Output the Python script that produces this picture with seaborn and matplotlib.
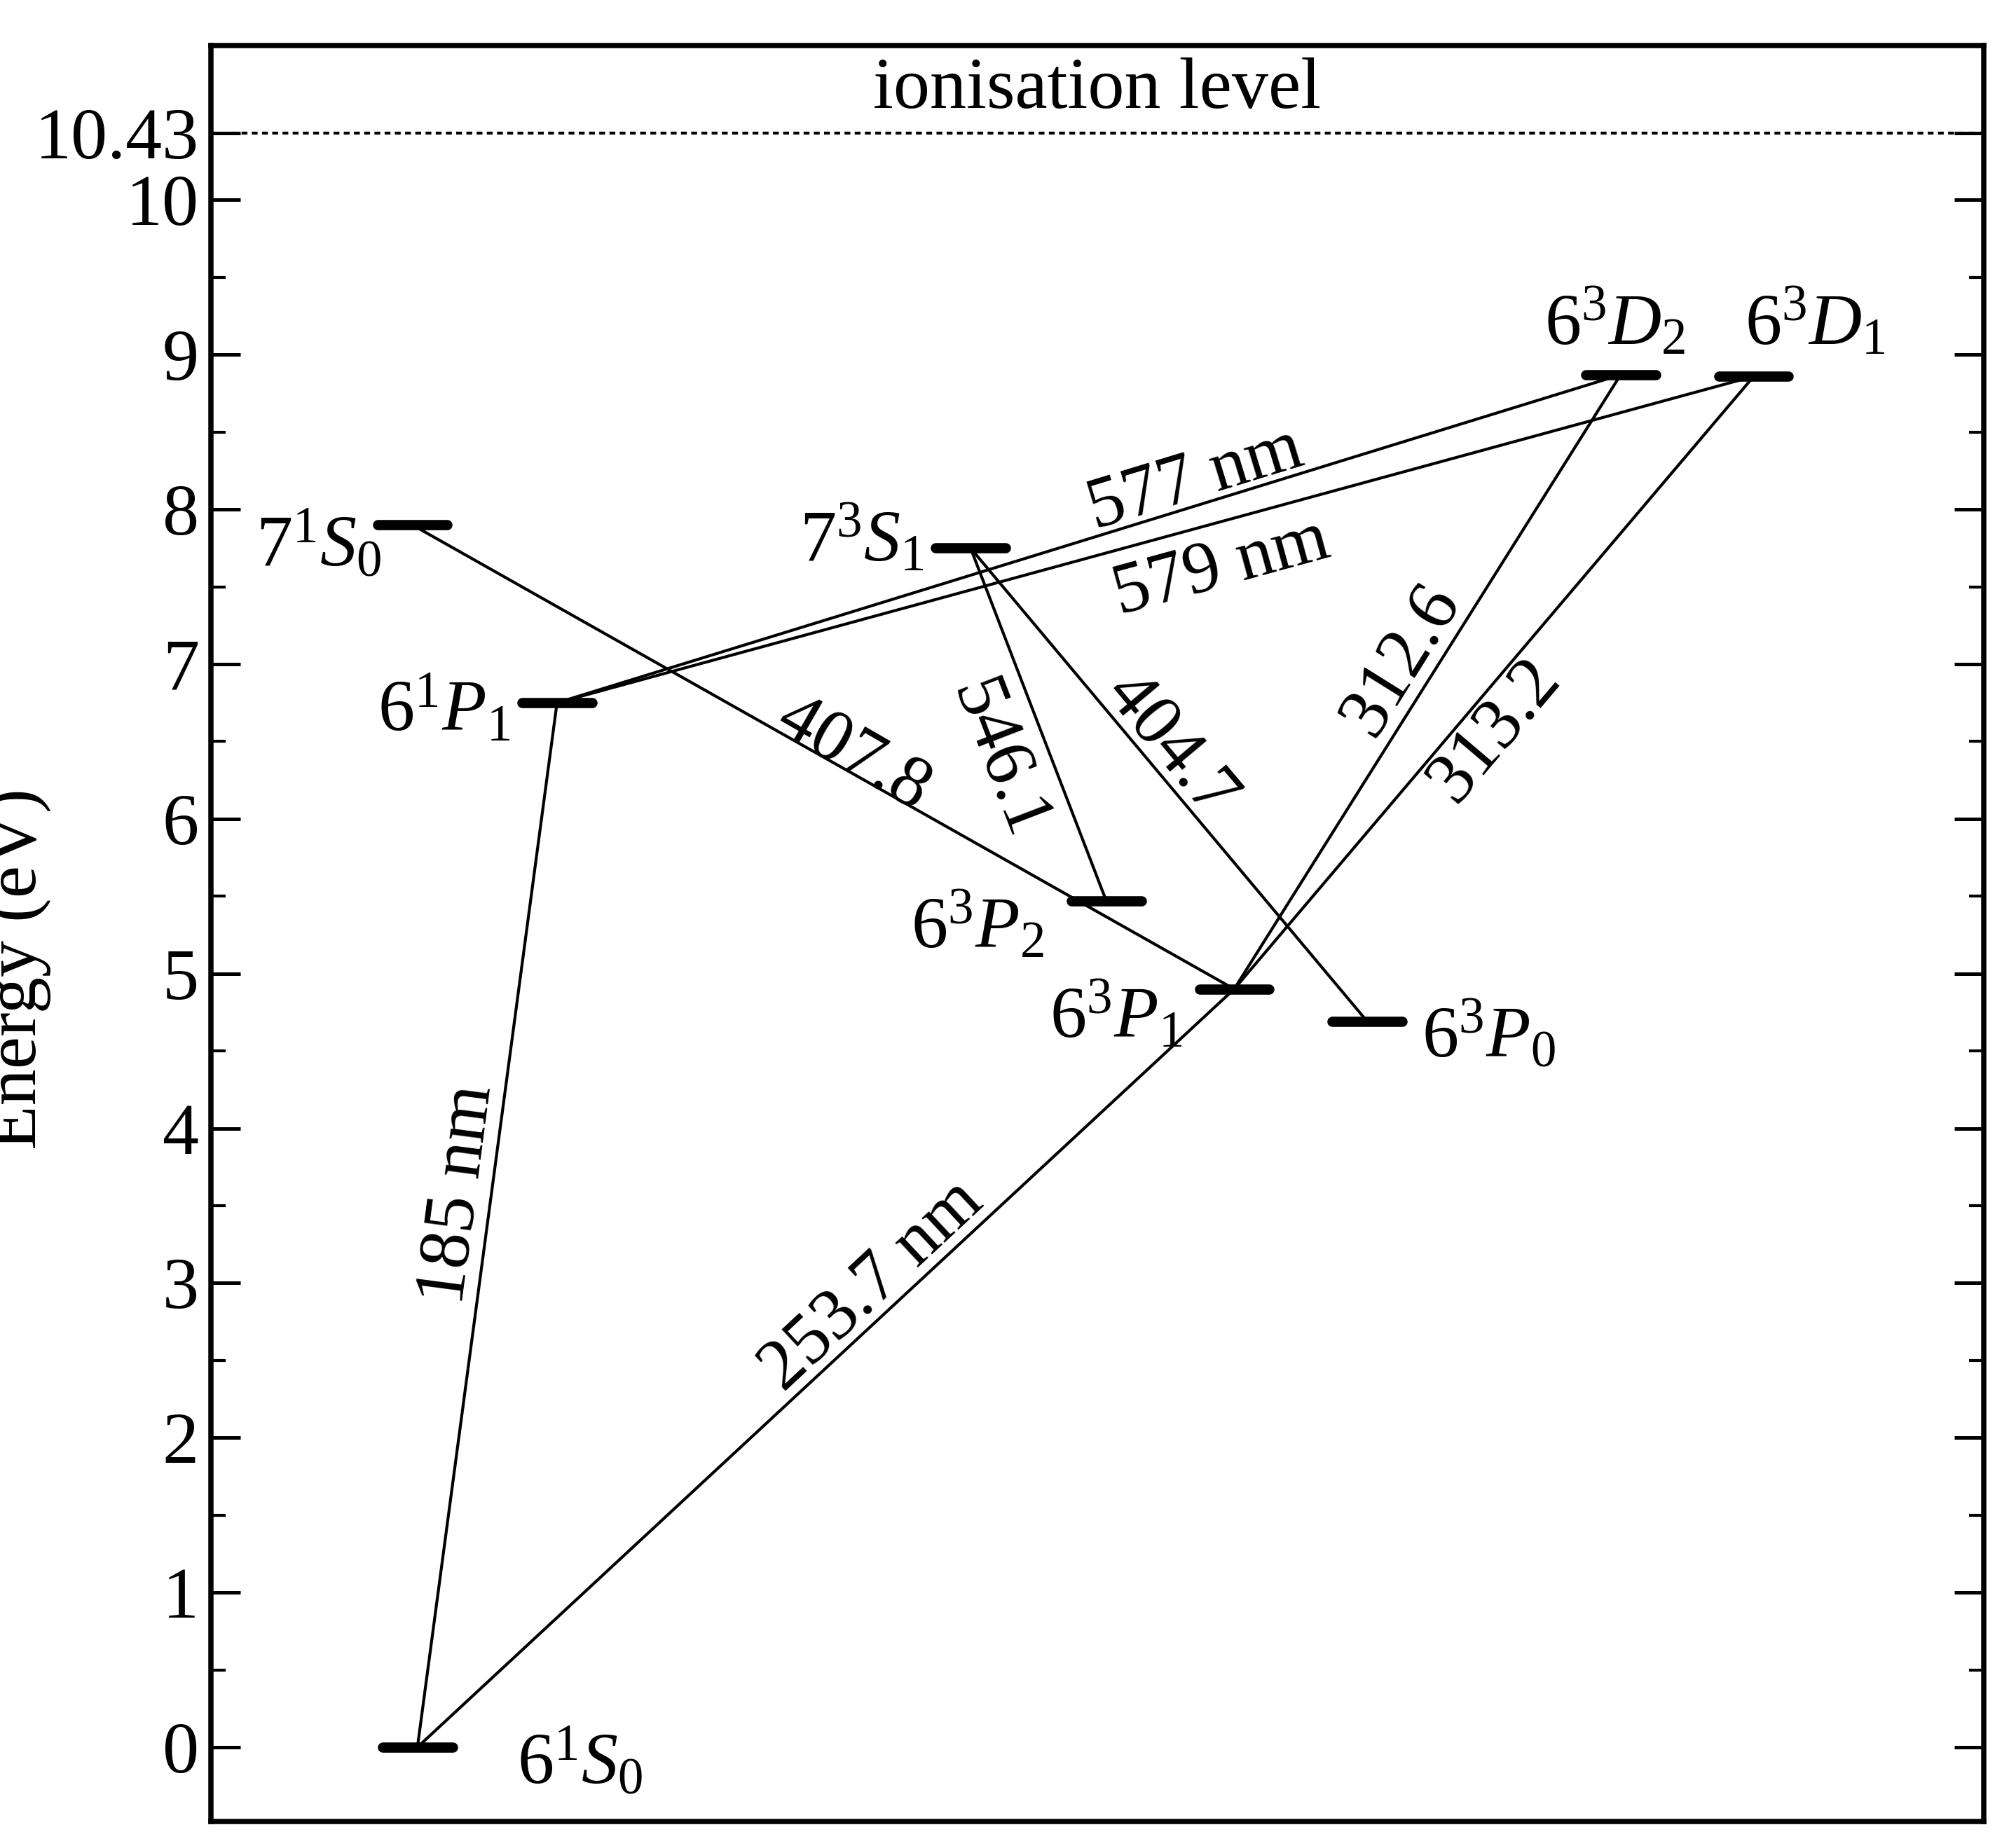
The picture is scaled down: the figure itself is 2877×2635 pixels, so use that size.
import matplotlib
matplotlib.use("Agg")
import matplotlib.pyplot as plt
import seaborn as sns
import numpy as np

sns.set_theme(style="white")
plt.rcParams['font.family'] = ['Liberation Serif', 'DejaVu Serif']
plt.rcParams['mathtext.fontset'] = 'custom'
plt.rcParams['mathtext.rm'] = 'Liberation Serif'
plt.rcParams['mathtext.it'] = 'Liberation Serif:italic'
plt.rcParams['text.color'] = 'black'
plt.rcParams['ytick.color'] = 'black'
plt.rcParams['axes.labelcolor'] = 'black'

# energy levels (x position in diagram units, energy in eV)
level_names = [r'$6^{1}S_{0}$', r'$6^{1}P_{1}$', r'$7^{1}S_{0}$', r'$7^{3}S_{1}$', r'$6^{3}P_{2}$',
               r'$6^{3}P_{1}$', r'$6^{3}P_{0}$', r'$6^{3}D_{2}$', r'$6^{3}D_{1}$']
level_x = [323, 431, 319, 751, 856, 955, 1058, 1254, 1357]
level_E = [0.0, 6.75, 7.90, 7.75, 5.47, 4.90, 4.69, 8.87, 8.86]
label_x = [400, 395, 295, 715, 705, 812, 1100, 1195, 1350]
label_E = [-0.10, 6.70, 7.77, 7.80, 5.30, 4.72, 4.60, 9.20, 9.20]
label_ha = ['left', 'right', 'right', 'right', 'left', 'left', 'left', 'left', 'left']

# transitions: (from level index, to level index)
trans_from = [0, 0, 2, 1, 1, 3, 3, 5, 5]
trans_to = [1, 5, 5, 7, 8, 4, 6, 7, 8]
trans_labels = ['185 nm', '253.7 nm', '407.8', '577 nm', '579 nm', '546.1', '404.7', '312.6', '313.2']
trans_lx = [355, 675, 660, 925, 945, 772, 905, 1085, 1157]
trans_lE = [3.57, 2.98, 6.41, 8.19, 7.62, 6.38, 6.47, 7.03, 6.57]
trans_rot = [82.5, 43, -30, 17, 15.3, -69, -50, 58, 49.7]

ion_E = 10.43
yticks = [0, 1, 2, 3, 4, 5, 6, 7, 8, 9, 10, 10.43]
ytick_labels = ['0', '1', '2', '3', '4', '5', '6', '7', '8', '9', '10', '10.43']

fig = plt.figure(figsize=(2877/300, 2635/300), dpi=300)
ax = fig.add_axes([0.1045, 0.0133, 0.8795, 0.9622])
ax.set_xlim(163, 1535)
ax.set_ylim(-0.48, 11.0)

for f, t in zip(trans_from, trans_to):
    sns.lineplot(x=[level_x[f], level_x[t]], y=[level_E[f], level_E[t]], ax=ax,
                 color='black', lw=1.0, sort=False, estimator=None)

for x, e in zip(level_x, level_E):
    ax.plot([x - 27, x + 27], [e, e], color='black', lw=3.5, solid_capstyle='round')

for n, x, e, ha in zip(level_names, label_x, label_E, label_ha):
    ax.text(x, e, n, ha=ha, va='center', fontsize=25)

for lab, x, e, r in zip(trans_labels, trans_lx, trans_lE, trans_rot):
    ax.text(x, e, lab, ha='center', va='center', rotation=r, rotation_mode='anchor', fontsize=25)

ax.axhline(ion_E, color='black', lw=1.0, ls=(0, (2, 1.5)))
ax.text(849, 10.71, 'ionisation level', ha='center', va='center', fontsize=25)

ax.set_yticks(yticks)
ax.set_yticklabels(ytick_labels, fontsize=25)
ax.set_yticks(np.arange(0.5, 10.5, 1.0), minor=True)
ax.set_xticks([])
ax.tick_params(axis='y', which='major', direction='in', length=10, width=1.2, left=True, right=True, pad=4)
ax.tick_params(axis='y', which='minor', direction='in', length=5, width=1.0, left=True, right=True)
ax.set_ylabel('Energy (eV)', fontsize=25)
ax.yaxis.set_label_coords(-0.09, 0.48)
for s in ax.spines.values():
    s.set_color('black')
    s.set_linewidth(1.8)

fig.savefig('out.png', dpi=300)
